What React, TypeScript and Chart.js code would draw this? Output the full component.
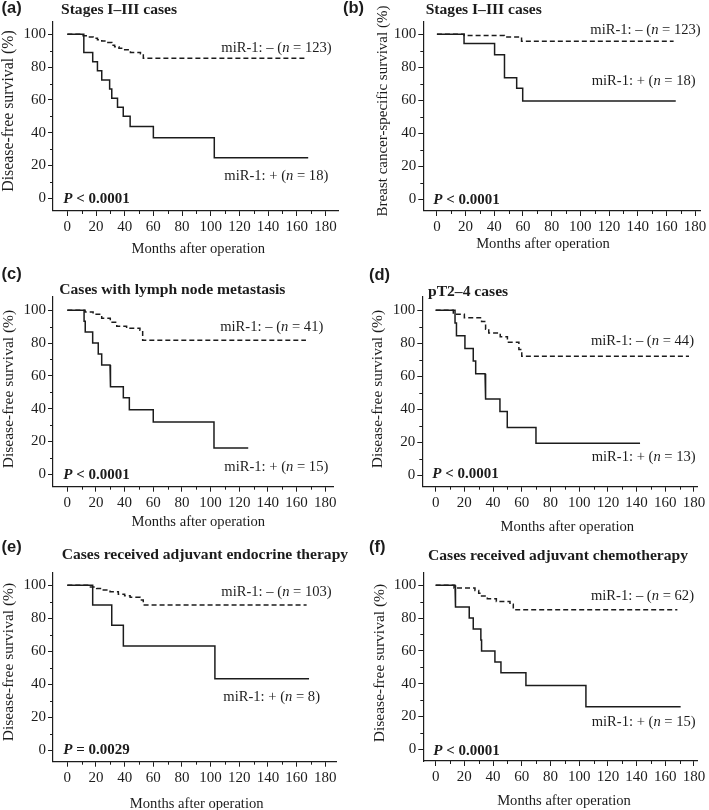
import React, { useEffect, useRef } from "react";
import { Chart, registerables } from "chart.js";

Chart.register(...registerables);

const PAGE_W = 709;
const PAGE_H = 810;
const INK = "#1c1c1c";
const SERIF = '"Liberation Serif", "Times New Roman", serif';
const SANS = '"Liberation Sans", Arial, sans-serif';

// ---- axis ticks ----
const X_TICKS = [0, 20, 40, 60, 80, 100, 120, 140, 160, 180];
const X_MINOR = [10, 30, 50, 70, 90, 110, 130, 150, 170];
const Y_TICKS = [0, 20, 40, 60, 80, 100];
const Y_MINOR = [10, 30, 50, 70, 90];

// ---- texts ----
const PANEL_LETTERS = ["(a)", "(b)", "(c)", "(d)", "(e)", "(f)"];
const PANEL_TITLES = [
  "Stages I\u2013III cases",
  "Stages I\u2013III cases",
  "Cases with lymph node metastasis",
  "pT2\u20134 cases",
  "Cases received adjuvant endocrine therapy",
  "Cases received adjuvant chemotherapy",
];
const Y_TITLES = [
  "Disease-free survival (%)",
  "Breast cancer-specific survival (%)",
  "Disease-free survival (%)",
  "Disease-free survival (%)",
  "Disease-free survival (%)",
  "Disease-free survival (%)",
];
const X_TITLE = "Months after operation";
const P_VALUES = ["< 0.0001", "< 0.0001", "< 0.0001", "< 0.0001", "= 0.0029", "< 0.0001"];
const NEG_N = [123, 123, 41, 44, 103, 62];
const POS_N = [18, 18, 15, 13, 8, 15];

// ---- survival data (event months, survival % after event, last follow-up) ----
// (a)
const aNegMonths = [11, 14, 18, 21, 24, 27, 31, 33, 36, 40, 44, 51, 53];
const aNegSurv = [99.2, 98.4, 97.6, 96.7, 95.9, 95.0, 93.3, 92.4, 91.5, 90.6, 89.0, 88.1, 85.4];
const aNegEnd = 167;
const aPosMonths = [11.5, 17.7, 21, 24, 29.5, 31, 35, 39, 43.8, 60, 102.5];
const aPosSurv = [88.9, 83.3, 77.8, 72.2, 66.7, 61.1, 55.6, 50.0, 43.8, 37.0, 24.7];
const aPosEnd = 168;
// (b)
const bNegMonths = [19, 47, 59];
const bNegSurv = [99.2, 98.3, 95.7];
const bNegEnd = 165;
const bPosMonths = [18.9, 40.2, 47.1, 55.6, 59.8];
const bPosSurv = [94.4, 87.5, 73.7, 67.3, 59.6];
const bPosEnd = 166.5;
// (c)
const cNegMonths = [12.4, 18, 24, 30, 34.5, 41.4, 50.7, 52.6];
const cNegSurv = [99.0, 97.6, 95.1, 92.7, 90.2, 89.0, 87.8, 81.7];
const cNegEnd = 166.6;
const cPosMonths = [11.7, 12.5, 17.7, 21.6, 24, 29.8, 30.3, 39.1, 43.3, 60, 102.4];
const cPosSurv = [93.3, 86.7, 80.0, 73.3, 66.7, 60.0, 53.3, 46.7, 39.4, 31.9, 16.0];
const cPosEnd = 126.3;
// (d)
const dNegMonths = [12.3, 20, 32, 34.8, 37, 45, 50, 58, 60];
const dNegSurv = [97.7, 95.5, 93.2, 88.6, 86.3, 84.0, 80.6, 76.2, 72.2];
const dNegEnd = 176.5;
const dPosMonths = [13.5, 14.5, 20.4, 26.2, 27.9, 34.4, 35, 44.8, 49.9, 69.9];
const dPosSurv = [92.3, 84.6, 76.9, 69.2, 61.5, 53.8, 46.2, 38.5, 28.9, 19.3];
const dPosEnd = 142.4;
// (e)
const eNegMonths = [15, 20.5, 25.1, 29.8, 35.6, 40, 43.8, 50.7, 53];
const eNegSurv = [99.0, 98.1, 97.1, 96.1, 94.5, 93.6, 92.7, 91.1, 88.0];
const eNegEnd = 167;
const ePosMonths = [17.7, 31, 39.1, 103];
const ePosSurv = [88.0, 75.7, 63.2, 43.3];
const ePosEnd = 168.7;
// (f)
const fNegMonths = [12.8, 27.4, 30, 32, 36, 42.3, 51.8, 54.1];
const fNegSurv = [98.4, 96.8, 95.1, 93.4, 91.8, 90.1, 88.5, 85.1];
const fNegEnd = 168.4;
const fPosMonths = [13.5, 14, 23.4, 26.2, 31.5, 32, 41.3, 45.5, 62.9, 104.7];
const fPosSurv = [93.3, 86.7, 80.0, 73.3, 66.7, 60.0, 53.3, 46.7, 38.9, 25.9];
const fPosEnd = 170.7;

const SERIES = [
  { negT: aNegMonths, negS: aNegSurv, negEnd: aNegEnd, posT: aPosMonths, posS: aPosSurv, posEnd: aPosEnd },
  { negT: bNegMonths, negS: bNegSurv, negEnd: bNegEnd, posT: bPosMonths, posS: bPosSurv, posEnd: bPosEnd },
  { negT: cNegMonths, negS: cNegSurv, negEnd: cNegEnd, posT: cPosMonths, posS: cPosSurv, posEnd: cPosEnd },
  { negT: dNegMonths, negS: dNegSurv, negEnd: dNegEnd, posT: dPosMonths, posS: dPosSurv, posEnd: dPosEnd },
  { negT: eNegMonths, negS: eNegSurv, negEnd: eNegEnd, posT: ePosMonths, posS: ePosSurv, posEnd: ePosEnd },
  { negT: fNegMonths, negS: fNegSurv, negEnd: fNegEnd, posT: fPosMonths, posS: fPosSurv, posEnd: fPosEnd },
];

// ---- layout (page pixels) ----
type Layout = {
  left: number; right: number; top: number; bottom: number;
  xMin: number; xMax: number; yMin: number; yMax: number;
  letter: [number, number]; title: [number, number];
  yTitle: [number, number]; yTitleSize: number; xTitle: [number, number];
  pval: [number, number]; negLbl: [number, number]; posLbl: [number, number];
};

const LAYOUTS: Layout[] = [
  { left: 53, right: 338.3, top: 21.7, bottom: 211, xMin: -10, xMax: 189, yMin: -7.7, yMax: 107.7,
    letter: [1.5, 12.5], title: [61, 13.5], yTitle: [8.5, 111], yTitleSize: 15.8, xTitle: [198.3, 252.9],
    pval: [63.3, 203], negLbl: [331.7, 51.5], posLbl: [328.3, 180.3] },
  { left: 423.3, right: 702.3, top: 21.7, bottom: 211, xMin: -9.5, xMax: 183.7, yMin: -7.1, yMax: 107.6,
    letter: [343, 12.5], title: [425.7, 13.7], yTitle: [383, 111], yTitleSize: 15, xTitle: [543, 248],
    pval: [433.3, 204], negLbl: [700.7, 33.6], posLbl: [695.7, 84.6] },
  { left: 53, right: 333.3, top: 296.7, bottom: 486.7, xMin: -10, xMax: 185.7, yMin: -7.6, yMax: 108.3,
    letter: [1.5, 278.5], title: [59.3, 293.7], yTitle: [8.5, 389], yTitleSize: 15.5, xTitle: [198.3, 526.3],
    pval: [63.3, 479], negLbl: [323.3, 331.3], posLbl: [328.3, 471.3] },
  { left: 422.3, right: 697.3, top: 296.7, bottom: 486.7, xMin: -9.3, xMax: 182.3, yMin: -7.1, yMax: 108.3,
    letter: [369, 280], title: [428, 296], yTitle: [378, 389], yTitleSize: 15.5, xTitle: [567.3, 531.3],
    pval: [432.3, 478.3], negLbl: [694, 344.6], posLbl: [695.7, 461.3] },
  { left: 53, right: 336.7, top: 572.3, bottom: 761.7, xMin: -10, xMax: 188, yMin: -7.1, yMax: 107.9,
    letter: [1.5, 552], title: [61.7, 558.7], yTitle: [8.5, 662], yTitleSize: 15.5, xTitle: [196.7, 808],
    pval: [63.3, 754], negLbl: [331.7, 596.3], posLbl: [320, 701.3] },
  { left: 423.3, right: 697.3, top: 572.3, bottom: 761, xMin: -8.6, xMax: 182.3, yMin: -7.1, yMax: 107.9,
    letter: [369, 552], title: [428, 560.4], yTitle: [379.5, 663], yTitleSize: 15.5, xTitle: [564, 804.6],
    pval: [433.3, 755], negLbl: [694, 599.6], posLbl: [695.7, 726.3] },
];

function kmPoints(times: number[], surv: number[], end: number) {
  const pts = [{ x: 0, y: 100 }];
  let prev = 100;
  times.forEach((t, i) => {
    pts.push({ x: t, y: prev });
    pts.push({ x: t, y: surv[i] });
    prev = surv[i];
  });
  pts.push({ x: end, y: prev });
  return pts;
}

type Seg = { text: string; font: string };

function drawRich(ctx: CanvasRenderingContext2D, segs: Seg[], x: number, y: number, align: "left" | "right" | "center") {
  const widths = segs.map((s) => {
    ctx.font = s.font;
    return ctx.measureText(s.text).width;
  });
  const total = widths.reduce((a, b) => a + b, 0);
  let cx = align === "right" ? x - total : align === "center" ? x - total / 2 : x;
  ctx.textAlign = "left";
  ctx.textBaseline = "alphabetic";
  segs.forEach((s, i) => {
    ctx.font = s.font;
    ctx.fillText(s.text, cx, y);
    cx += widths[i];
  });
}

function groupLabel(sign: string, n: number): Seg[] {
  const reg = `14.6px ${SERIF}`;
  const ital = `italic 14.6px ${SERIF}`;
  return [
    { text: `miR-1: ${sign} (`, font: reg },
    { text: "n", font: ital },
    { text: ` = ${n})`, font: reg },
  ];
}

function PanelChart({ idx }: { idx: number }) {
  const ref = useRef<HTMLCanvasElement | null>(null);
  useEffect(() => {
    const canvas = ref.current;
    if (!canvas) return;
    const L = LAYOUTS[idx];
    const S = SERIES[idx];
    const Y_AXIS_W = 40;
    const X_AXIS_H = 30;

    const textPlugin = {
      id: "panelText" + idx,
      afterDraw(chart: any) {
        const ctx: CanvasRenderingContext2D = chart.ctx;
        const xs = chart.scales.x;
        const ys = chart.scales.y;
        const { left, bottom } = chart.chartArea;
        ctx.save();
        // minor ticks
        ctx.strokeStyle = INK;
        ctx.lineWidth = 1;
        ctx.beginPath();
        X_MINOR.forEach((v) => {
          const px = Math.round(xs.getPixelForValue(v)) + 0.5;
          ctx.moveTo(px, bottom);
          ctx.lineTo(px, bottom + 3);
        });
        Y_MINOR.forEach((v) => {
          const py = Math.round(ys.getPixelForValue(v)) + 0.5;
          ctx.moveTo(left - 3, py);
          ctx.lineTo(left, py);
        });
        ctx.stroke();

        ctx.fillStyle = INK;
        // panel letter
        drawRich(ctx, [{ text: PANEL_LETTERS[idx], font: `bold 16.5px ${SANS}` }], L.letter[0], L.letter[1], "left");
        // title
        drawRich(ctx, [{ text: PANEL_TITLES[idx], font: `bold 15.6px ${SERIF}` }], L.title[0], L.title[1], "left");
        // x title
        drawRich(ctx, [{ text: X_TITLE, font: `14.6px ${SERIF}` }], L.xTitle[0], L.xTitle[1], "center");
        // p value
        drawRich(
          ctx,
          [
            { text: "P", font: `italic bold 15px ${SERIF}` },
            { text: " " + P_VALUES[idx], font: `bold 15px ${SERIF}` },
          ],
          L.pval[0], L.pval[1], "left"
        );
        // group labels
        drawRich(ctx, groupLabel("\u2013", NEG_N[idx]), L.negLbl[0], L.negLbl[1], "right");
        drawRich(ctx, groupLabel("+", POS_N[idx]), L.posLbl[0], L.posLbl[1], "right");
        // y title
        ctx.translate(L.yTitle[0], L.yTitle[1]);
        ctx.rotate(-Math.PI / 2);
        ctx.font = `${L.yTitleSize}px ${SERIF}`;
        ctx.textAlign = "center";
        ctx.textBaseline = "middle";
        ctx.fillText(Y_TITLES[idx], 0, 0);
        ctx.restore();
      },
    };

    const tickFont = { family: SERIF, size: 15 };
    const chart = new Chart(canvas, {
      type: "line",
      data: {
        datasets: [
          {
            data: kmPoints(S.negT, S.negS, S.negEnd),
            borderColor: INK,
            borderWidth: 1.5,
            borderDash: [5, 3],
            pointRadius: 0,
            fill: false,
            tension: 0,
          },
          {
            data: kmPoints(S.posT, S.posS, S.posEnd),
            borderColor: INK,
            borderWidth: 1.5,
            pointRadius: 0,
            fill: false,
            tension: 0,
          },
        ],
      },
      options: {
        responsive: false,
        animation: false,
        devicePixelRatio: 1,
        events: [],
        layout: {
          padding: {
            left: L.left - Y_AXIS_W,
            top: L.top,
            right: PAGE_W - L.right,
            bottom: PAGE_H - L.bottom - X_AXIS_H,
          },
        },
        plugins: {
          legend: { display: false },
          tooltip: { enabled: false },
          title: { display: false },
        },
        scales: {
          x: {
            type: "linear",
            min: L.xMin,
            max: L.xMax,
            afterFit: (s: any) => {
              s.height = X_AXIS_H;
            },
            afterBuildTicks: (s: any) => {
              s.ticks = X_TICKS.map((v) => ({ value: v }));
            },
            ticks: { font: tickFont, color: INK, padding: 2.5, maxRotation: 0, autoSkip: false },
            grid: { drawOnChartArea: false, drawTicks: true, tickLength: 5, tickColor: INK, tickWidth: 1 },
            border: { display: true, color: INK, width: 1.2 },
          },
          y: {
            type: "linear",
            min: L.yMin,
            max: L.yMax,
            afterFit: (s: any) => {
              s.width = Y_AXIS_W;
            },
            afterBuildTicks: (s: any) => {
              s.ticks = Y_TICKS.map((v) => ({ value: v }));
            },
            ticks: { font: tickFont, color: INK, padding: 2, autoSkip: false },
            grid: { drawOnChartArea: false, drawTicks: true, tickLength: 5, tickColor: INK, tickWidth: 1 },
            border: { display: true, color: INK, width: 1.2 },
          },
        },
      } as any,
      plugins: [textPlugin],
    });
    return () => chart.destroy();
  }, [idx]);

  return (
    <canvas
      ref={ref}
      width={PAGE_W}
      height={PAGE_H}
      style={{ position: "absolute", left: 0, top: 0, width: PAGE_W, height: PAGE_H, display: "block" }}
    />
  );
}

export default function App() {
  return (
    <div style={{ position: "absolute", left: 0, top: 0, width: PAGE_W, height: PAGE_H, background: "#fff", overflow: "hidden" }}>
      {SERIES.map((_, i) => (
        <PanelChart key={i} idx={i} />
      ))}
    </div>
  );
}
